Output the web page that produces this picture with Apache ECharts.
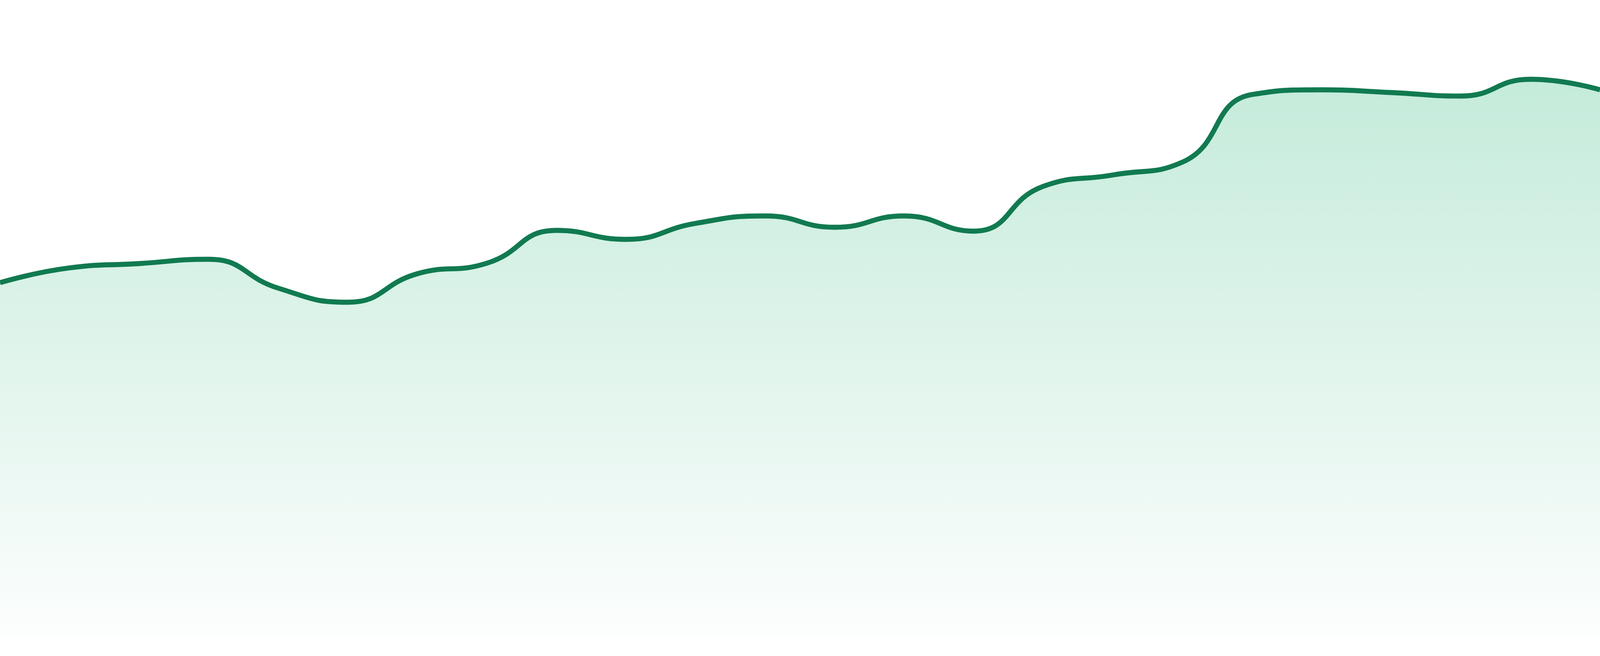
<!DOCTYPE html>
<html>
<head>
<meta charset="utf-8">
<style>
  html, body { margin: 0; padding: 0; background: #ffffff; overflow: hidden; }
  #chart { width: 100vw; height: 100vh; }
</style>
<script src="https://cdn.jsdelivr.net/npm/echarts@6/dist/echarts.min.js"></script>
</head>
<body>
<div id="chart"></div>
<script>
const categories = ['P1','P2','P3','P4','P5','P6','P7','P8','P9','P10','P11','P12',
                    'P13','P14','P15','P16','P17','P18','P19','P20','P21','P22','P23','P24'];
const values = [90.8, 94.6, 95.7, 96.8, 89.4, 85.8, 93.1, 95.8, 104.2, 101.9, 106.0, 107.9,
                105.0, 107.9, 104.0, 115.5, 118.4, 121.7, 139.0, 140.2, 139.5, 138.6, 142.9, 140.2];
const yMin = 0;
const yMax = 163.2;

const dom = document.getElementById('chart');
// scale factor between the layout size and the 4800px-wide picture
const k = dom.clientWidth / 4800;

const chart = echarts.init(dom);
chart.setOption({
  animation: false,
  backgroundColor: '#ffffff',
  grid: { left: 0, right: 0, top: 0, bottom: '2.857%' },
  xAxis: {
    type: 'category',
    data: categories,
    boundaryGap: false,
    show: false
  },
  yAxis: {
    type: 'value',
    min: yMin,
    max: yMax,
    show: false
  },
  series: [{
    type: 'line',
    data: values,
    smooth: true,
    symbol: 'none',
    lineStyle: { color: '#117a50', width: 15 * k },
    areaStyle: {
      color: new echarts.graphic.LinearGradient(0, 0, 0, 1, [
        { offset: 0, color: 'rgba(35,180,118,0.38)' },
        { offset: 1, color: 'rgba(35,180,118,0.02)' }
      ])
    }
  }]
});
window.addEventListener('resize', () => chart.resize());
</script>
</body>
</html>
